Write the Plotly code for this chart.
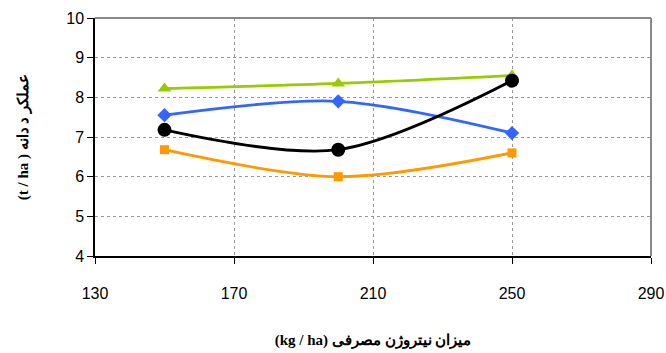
import plotly.graph_objects as go

nitrogen = [150, 200, 250]
green_vals = [8.22, 8.35, 8.55]
blue_vals = [7.55, 7.90, 7.10]
black_vals = [7.18, 6.68, 8.42]
orange_vals = [6.68, 6.00, 6.60]

x_ticks = [130, 170, 210, 250, 290]
y_ticks = [4, 5, 6, 7, 8, 9, 10]

fig = go.Figure()

series = [
    (green_vals, "#99CC00", "triangle-up", 12),
    (blue_vals, "#3366FF", "diamond", 11),
    (orange_vals, "#FF9900", "square", 9),
    (black_vals, "#000000", "circle", 14),
]
for vals, color, sym, size in series:
    fig.add_trace(go.Scatter(
        x=nitrogen, y=vals, mode="lines+markers",
        line=dict(color=color, width=2.8, shape="spline", smoothing=0.9),
        marker=dict(symbol=sym, size=size, color=color),
        showlegend=False, cliponaxis=False,
    ))

fig.update_layout(
    width=666, height=353,
    margin=dict(l=95, r=15, t=18, b=97),
    plot_bgcolor="white", paper_bgcolor="white",
    font=dict(family="Liberation Sans, Arial", size=16, color="black"),
    xaxis=dict(
        range=[130, 290], tickvals=x_ticks, ticktext=[str(v) for v in x_ticks],
        showgrid=True, gridcolor="#999999", griddash="dot", gridwidth=1,
        showline=True, linecolor="black", linewidth=1.5, mirror=False,
        ticks="outside", ticklen=6, tickcolor="black", ticklabelstandoff=16,
        zeroline=False, automargin=False,
        title=dict(
            text="<b>(kg / ha) میزان نیتروژن مصرفی</b>",
            font=dict(family="Liberation Serif, Times New Roman", size=15),
            standoff=34,
        ),
    ),
    yaxis=dict(
        range=[4, 10], tickvals=y_ticks,
        showgrid=True, gridcolor="#999999", griddash="dot", gridwidth=1,
        showline=True, linecolor="black", linewidth=1.5,
        ticks="outside", ticklen=6, tickcolor="black",
        zeroline=False, automargin=False,
        title=dict(
            text="<b>(t / ha ) عملکر د دانه</b>",
            font=dict(family="Liberation Serif, Times New Roman", size=15),
            standoff=34,
        ),
    ),
)

# top and right frame lines (gray)
fig.add_shape(type="line", xref="paper", yref="paper", x0=0, x1=1, y0=1, y1=1,
              line=dict(color="#888888", width=2))
fig.add_shape(type="line", xref="paper", yref="paper", x0=1, x1=1, y0=0, y1=1,
              line=dict(color="#888888", width=2))

fig.write_html("out.html", config={"displayModeBar": False},
               post_script="document.body.style.margin='0';")
